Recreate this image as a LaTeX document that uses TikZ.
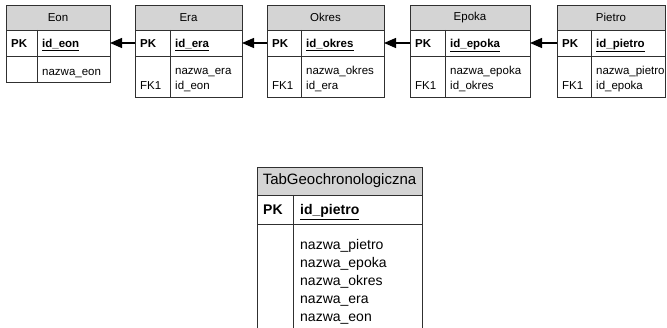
\documentclass[tikz,border=0pt]{standalone}
\usepackage{fontspec}
\setmainfont{Liberation Sans}
\usetikzlibrary{arrows.meta}

\definecolor{hdrgrey}{HTML}{D4D4D4}
\definecolor{edge}{HTML}{303030}

\tikzset{
  frame/.style={draw=edge, line width=0.9pt},
  hdr/.style={frame, fill=hdrgrey, rectangle, inner sep=0pt, outer sep=0pt,
    minimum height=25, font=\fontsize{11.5pt}{14pt}\selectfont},
  pkrow/.style={frame, fill=white, rectangle, inner sep=0pt, outer sep=0pt, minimum height=26},
  bodyrow/.style={frame, fill=white, rectangle, inner sep=0pt, outer sep=0pt},
  keytxt/.style={anchor=base west, inner sep=0pt, font=\fontsize{11.5pt}{14pt}\selectfont\bfseries},
  fldtxt/.style={anchor=base west, inner sep=0pt, font=\fontsize{11.5pt}{14pt}\selectfont},
  bighdr/.style={hdr, font=\fontsize{15pt}{18pt}\selectfont},
  bigkey/.style={keytxt, font=\fontsize{14pt}{17pt}\selectfont\bfseries},
  bigfld/.style={fldtxt, font=\fontsize{14pt}{17pt}\selectfont},
  fk/.style={draw=black, line width=1.3pt, -{Triangle[length=12pt, width=10pt]}}
}

% entity box: name, left, right, divider x, bottom, title, primary key
\newcommand\ramka[7]{%
  \node[hdr, minimum width={#3-#2}, anchor=north west] (#1) at (#2,5) {#6};
  \node[pkrow, minimum width={#3-#2}, anchor=north west] (#1-pk) at (#2,30) {};
  \node[bodyrow, minimum width={#3-#2}, minimum height={#5-56}, anchor=north west] (#1-body) at (#2,56) {};
  \draw[frame] (#4,30) -- (#4,#5);
  \node[keytxt] (#1-pklbl) at (#2+5,47.5) {PK};
  \node[keytxt] (#1-pkfld) at (#4+5,47.5) {\underline{#7}};
}

\begin{document}
\begin{tikzpicture}[x=1pt, y=-1pt]
  \useasboundingbox (0,0) rectangle (667,328);

  \ramka{eon}{6}{110}{37}{82}{Eon}{id\_eon}
  \node[fldtxt] (eon-f1) at (42,76) {nazwa\_eon};

  \ramka{era}{135}{242}{170}{97}{Era}{id\_era}
  \node[fldtxt] (era-f1) at (175,75) {nazwa\_era};
  \node[fldtxt] (era-f2) at (175,90) {id\_eon};
  \node[fldtxt] (era-fk) at (140,90) {FK1};

  \ramka{okres}{267}{384}{301}{97}{Okres}{id\_okres}
  \node[fldtxt] (okres-f1) at (306,75) {nazwa\_okres};
  \node[fldtxt] (okres-f2) at (306,90) {id\_era};
  \node[fldtxt] (okres-fk) at (272,90) {FK1};

  \ramka{epoka}{410}{530}{445}{97}{Epoka}{id\_epoka}
  \node[fldtxt] (epoka-f1) at (450,75) {nazwa\_epoka};
  \node[fldtxt] (epoka-f2) at (450,90) {id\_okres};
  \node[fldtxt] (epoka-fk) at (415,90) {FK1};

  \ramka{pietro}{557}{665}{591}{97}{Pietro}{id\_pietro}
  \node[fldtxt] (pietro-f1) at (596,75) {nazwa\_pietro};
  \node[fldtxt] (pietro-f2) at (596,90) {id\_epoka};
  \node[fldtxt] (pietro-fk) at (562,90) {FK1};

  % foreign key references
  \draw[fk] (era-pk.west) -- (eon-pk.east);
  \draw[fk] (okres-pk.west) -- (era-pk.east);
  \draw[fk] (epoka-pk.west) -- (okres-pk.east);
  \draw[fk] (pietro-pk.west) -- (epoka-pk.east);

  % denormalised summary table
  \node[bighdr, minimum width=165, minimum height=28, anchor=north west] (geo) at (257,167) {TabGeochronologiczna};
  \node[pkrow, minimum width=165, minimum height=29, anchor=north west] (geo-pk) at (257,195) {};
  \node[bodyrow, minimum width=165, minimum height=110, anchor=north west] (geo-body) at (257,224) {};
  \draw[frame] (293,195) -- (293,334);
  \node[bigkey] (geo-pklbl) at (263,215) {PK};
  \node[bigkey] (geo-pkfld) at (300,215) {\underline{id\_pietro}};
  \node[bigfld] (geo-f1) at (300,250) {nazwa\_pietro};
  \node[bigfld] (geo-f2) at (300,268) {nazwa\_epoka};
  \node[bigfld] (geo-f3) at (300,286) {nazwa\_okres};
  \node[bigfld] (geo-f4) at (300,304) {nazwa\_era};
  \node[bigfld] (geo-f5) at (300,322) {nazwa\_eon};
\end{tikzpicture}
\end{document}
